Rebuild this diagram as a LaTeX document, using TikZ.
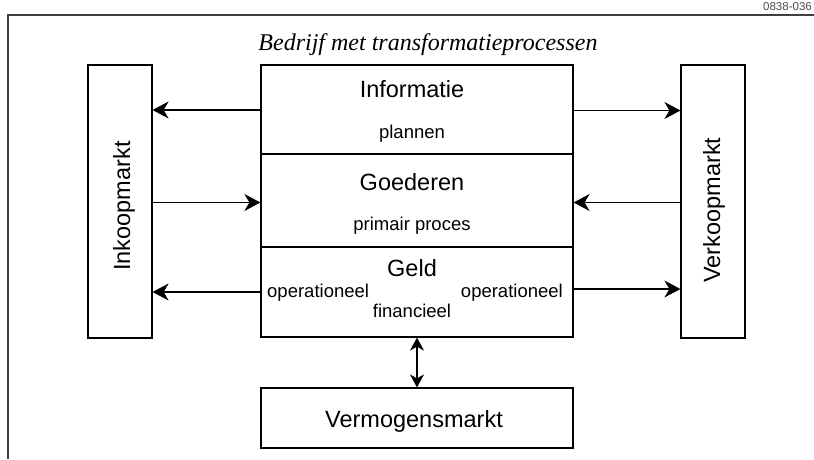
\documentclass[tikz,border=0pt]{standalone}
\usepackage{fontspec}
\setmainfont{Liberation Serif}
\setsansfont{Liberation Sans}
\usetikzlibrary{arrows.meta}
\tikzset{
  box/.style={draw, line width=1.2pt, inner sep=0pt, rectangle},
  big/.style={font=\sffamily\fontsize{23.5}{28}\selectfont, inner sep=0pt},
  small/.style={font=\sffamily\fontsize{18.5}{22}\selectfont, inner sep=0pt},
  arr/.style={line width=1.2pt, -{Stealth[length=16pt,width=17pt,inset=5pt]}},
  dbl/.style={line width=1.2pt, {Stealth[length=13pt,width=14pt,inset=4pt]}-{Stealth[length=13pt,width=14pt,inset=4pt]}},
  frame/.style={line width=1.6pt, black!75},
}
\begin{document}
\begin{tikzpicture}[x=1pt,y=-1pt]
\useasboundingbox (0,0) rectangle (814,459);
% frame
\coordinate (fr1) at (814,15);
\coordinate (fr2) at (8,15);
\coordinate (fr3) at (8,459);
\draw[frame] (fr1) -- (fr2) -- (fr3);
\node[font=\sffamily\fontsize{11.5}{13}\selectfont, text=black!70, anchor=base east, inner sep=0pt] (code) at (812,10) {0838-036};
\node[font=\fontsize{24}{28}\selectfont\itshape, anchor=base, inner sep=0pt] (title) at (428,50) {Bedrijf met transformatieprocessen};
% side boxes
\node[box, minimum width=64pt, minimum height=273pt] (inkoop) at (120,201.5) {};
\node[box, minimum width=64pt, minimum height=273pt] (verkoop) at (713,201.5) {};
\node[big, rotate=90, anchor=base] (inktxt) at (130,206) {Inkoopmarkt};
\node[big, rotate=90, anchor=base] (verktxt) at (720,210) {Verkoopmarkt};
% middle boxes
\node[box, minimum width=312pt, minimum height=89pt] (info) at (417,109.5) {};
\node[box, minimum width=312pt, minimum height=93pt] (goed) at (417,200.5) {};
\node[box, minimum width=312pt, minimum height=90pt] (geld) at (417,292) {};
\node[box, minimum width=312pt, minimum height=60pt] (verm) at (417,418) {};
% texts
\node[big, anchor=base] (t1) at (412,97.7) {Informatie};
\node[small, anchor=base] (t2) at (412,138) {plannen};
\node[big, anchor=base] (t3) at (412,190) {Goederen};
\node[small, anchor=base] (t4) at (412,230) {primair proces};
\node[big, anchor=base] (t5) at (412,276) {Geld};
\node[small, anchor=base west] (t6) at (267,297) {operationeel};
\node[small, anchor=base east] (t7) at (563,297) {operationeel};
\node[small, anchor=base] (t8) at (412,317) {financieel};
\node[big, anchor=base] (t9) at (414,427) {Vermogensmarkt};
% arrows
\draw[arr] (info.west |- 0,110) -- (inkoop.east |- 0,110);
\draw[arr] (inkoop.east |- 0,202.5) -- (goed.west |- 0,202.5);
\draw[arr] (geld.west |- 0,292) -- (inkoop.east |- 0,292);
\draw[arr] (info.east |- 0,110.5) -- (verkoop.west |- 0,110.5);
\draw[arr] (verkoop.west |- 0,202.5) -- (goed.east |- 0,202.5);
\draw[arr] (geld.east |- 0,289) -- (verkoop.west |- 0,289);
\draw[dbl] (geld.south) -- (verm.north);
\end{tikzpicture}
\end{document}
